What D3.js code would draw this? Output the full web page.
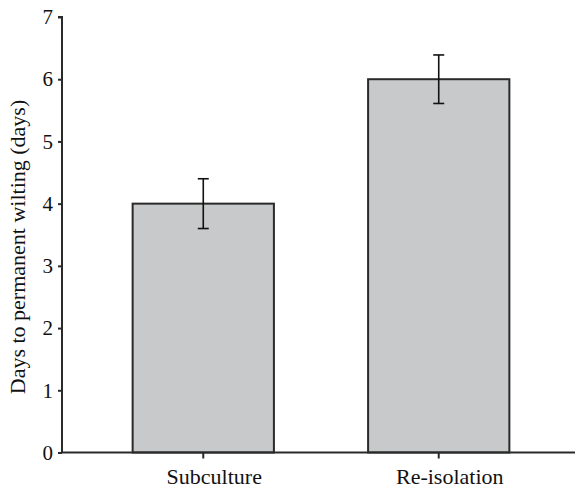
<!DOCTYPE html>
<html>
<head>
<meta charset="utf-8">
<script src="https://cdn.jsdelivr.net/npm/d3@7"></script>
<style>
  body { margin: 0; background: #fff; }
  svg { display: block; }
</style>
</head>
<body>
<div id="graph-container"></div>
<script>

// data
var categories = ['Subculture', 'Re-isolation'];
var values = [4, 6];
var errors = [0.4, 0.39];
var y_ticks = [0, 1, 2, 3, 4, 5, 6, 7];
var y_label = 'Days to permanent wilting (days)';

var w = 576, h = 489;
var font = '"Liberation Serif", "Times New Roman", serif';
var ink = '#2a2a2a';

var svg = d3.select('#graph-container').append('svg')
    .attr('width', w).attr('height', h);

var y = d3.scaleLinear().domain([0, 7]).range([452.5, 17]);
var x = d3.scaleBand().domain(categories).range([62, 580])
    .paddingInner(0.4).paddingOuter(0.3);

// bars
svg.selectAll('.bar').data(values).enter()
    .append('rect')
    .attr('class', 'bar')
    .attr('x', (d, i) => x(categories[i]))
    .attr('y', d => y(d))
    .attr('width', x.bandwidth())
    .attr('height', d => y(0) - y(d))
    .style('fill', '#c8c9cb')
    .style('stroke', ink)
    .style('stroke-width', 2);

// error bars
var cap = 11;
var eb = svg.selectAll('.err').data(values).enter()
    .append('g').attr('class', 'err')
    .attr('transform', (d, i) => `translate(${x(categories[i]) + x.bandwidth() / 2},0)`)
    .style('stroke', '#111')
    .style('stroke-width', 1.6);
eb.append('line')
    .attr('y1', (d, i) => y(d + errors[i])).attr('y2', (d, i) => y(d - errors[i]));
eb.append('line')
    .attr('x1', -cap / 2).attr('x2', cap / 2)
    .attr('y1', (d, i) => y(d + errors[i])).attr('y2', (d, i) => y(d + errors[i]));
eb.append('line')
    .attr('x1', -cap / 2).attr('x2', cap / 2)
    .attr('y1', (d, i) => y(d - errors[i])).attr('y2', (d, i) => y(d - errors[i]));

// y axis
var y_axis = svg.append('g')
    .attr('transform', 'translate(62,0)')
    .call(d3.axisLeft(y).tickValues(y_ticks).tickFormat(d3.format('d')).tickSize(4).tickPadding(5));
y_axis.select('.domain').attr('d', `M-4,${y(7)}H0V${y(0)}`);

// x axis
var x_axis = svg.append('g')
    .attr('transform', `translate(0,${y(0)})`)
    .call(d3.axisBottom(x).tickSize(6).tickPadding(10));
x_axis.select('.domain').attr('d', 'M62,0H575');

svg.selectAll('.domain, .tick line').style('stroke', ink).style('stroke-width', 2);
y_axis.selectAll('.tick text').style('font-family', font).style('font-size', '21px').style('fill', '#111');
x_axis.selectAll('.tick text').attr('dx', 11).style('font-family', font).style('font-size', '22px').style('fill', '#111');

// y label
svg.append('text')
    .attr('transform', 'translate(25,247) rotate(-90)')
    .style('text-anchor', 'middle')
    .style('font-family', font)
    .style('font-size', '22px')
    .style('fill', '#111')
    .text(y_label);

</script>
</body>
</html>
